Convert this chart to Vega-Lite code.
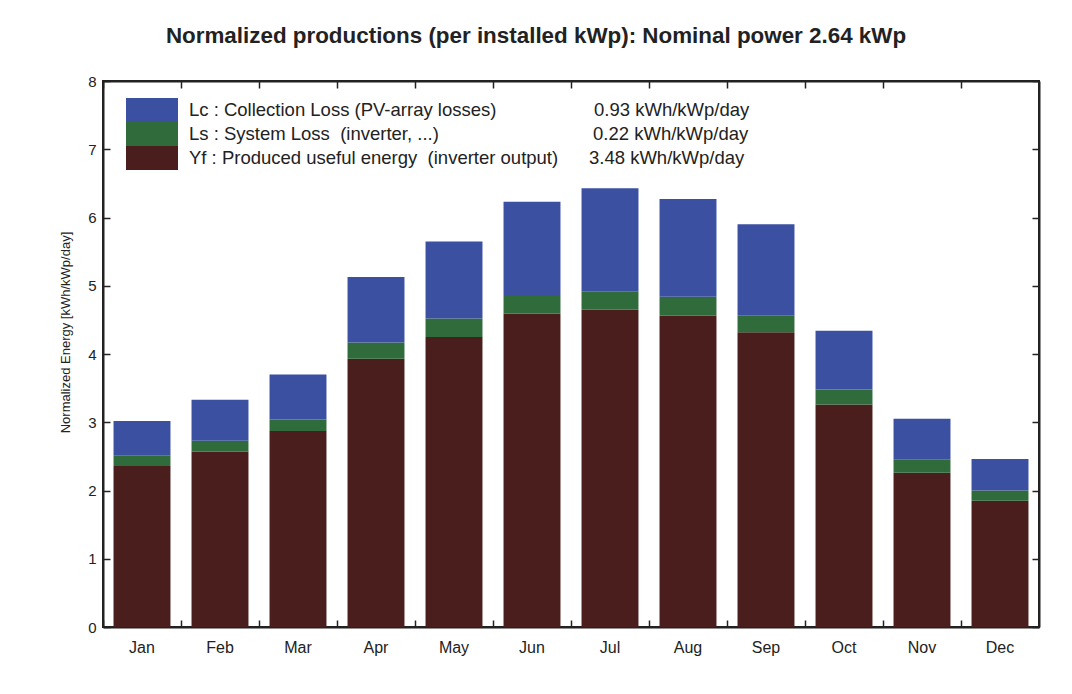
{
  "$schema": "https://vega.github.io/schema/vega-lite/v6.json",
  "width": 936,
  "height": 546,
  "autosize": {"type": "none"},
  "padding": {"left": 103, "top": 81, "right": 33, "bottom": 67},
  "background": "white",
  "title": {
    "text": "Normalized productions (per installed kWp):  Nominal power 2.64 kWp",
    "font": "Liberation Sans",
    "fontSize": 22.4,
    "fontWeight": "bold",
    "color": "#222222",
    "anchor": "middle",
    "baseline": "alphabetic",
    "offset": 9,
    "dx": -35
  },
  "data": {
    "values": [
      {"month": "Jan", "component": "Yf", "value": 2.36},
      {"month": "Jan", "component": "Ls", "value": 0.15},
      {"month": "Jan", "component": "Lc", "value": 0.51},
      {"month": "Feb", "component": "Yf", "value": 2.57},
      {"month": "Feb", "component": "Ls", "value": 0.16},
      {"month": "Feb", "component": "Lc", "value": 0.60},
      {"month": "Mar", "component": "Yf", "value": 2.87},
      {"month": "Mar", "component": "Ls", "value": 0.17},
      {"month": "Mar", "component": "Lc", "value": 0.66},
      {"month": "Apr", "component": "Yf", "value": 3.93},
      {"month": "Apr", "component": "Ls", "value": 0.24},
      {"month": "Apr", "component": "Lc", "value": 0.96},
      {"month": "May", "component": "Yf", "value": 4.25},
      {"month": "May", "component": "Ls", "value": 0.27},
      {"month": "May", "component": "Lc", "value": 1.13},
      {"month": "Jun", "component": "Yf", "value": 4.59},
      {"month": "Jun", "component": "Ls", "value": 0.26},
      {"month": "Jun", "component": "Lc", "value": 1.38},
      {"month": "Jul", "component": "Yf", "value": 4.65},
      {"month": "Jul", "component": "Ls", "value": 0.27},
      {"month": "Jul", "component": "Lc", "value": 1.51},
      {"month": "Aug", "component": "Yf", "value": 4.56},
      {"month": "Aug", "component": "Ls", "value": 0.28},
      {"month": "Aug", "component": "Lc", "value": 1.43},
      {"month": "Sep", "component": "Yf", "value": 4.32},
      {"month": "Sep", "component": "Ls", "value": 0.24},
      {"month": "Sep", "component": "Lc", "value": 1.34},
      {"month": "Oct", "component": "Yf", "value": 3.26},
      {"month": "Oct", "component": "Ls", "value": 0.22},
      {"month": "Oct", "component": "Lc", "value": 0.86},
      {"month": "Nov", "component": "Yf", "value": 2.26},
      {"month": "Nov", "component": "Ls", "value": 0.19},
      {"month": "Nov", "component": "Lc", "value": 0.60},
      {"month": "Dec", "component": "Yf", "value": 1.85},
      {"month": "Dec", "component": "Ls", "value": 0.15},
      {"month": "Dec", "component": "Lc", "value": 0.46}
    ]
  },
  "layer": [
    {
      "mark": {"type": "bar", "width": {"band": 0.73}},
      "encoding": {
        "x": {
          "field": "month",
          "type": "nominal",
          "sort": ["Jan", "Feb", "Mar", "Apr", "May", "Jun", "Jul", "Aug", "Sep", "Oct", "Nov", "Dec"],
          "scale": {"paddingInner": 0, "paddingOuter": 0},
          "axis": {
            "orient": "bottom",
            "title": null,
            "bandPosition": 0,
            "tickSize": -7,
            "tickColor": "#222222",
            "tickWidth": 1.5,
            "domainColor": "#222222",
            "domainWidth": 2,
            "labelAngle": 0,
            "labelFont": "Liberation Sans",
            "labelFontSize": 16,
            "labelColor": "#222222",
            "labelPadding": 19
          }
        },
        "y": {
          "field": "value",
          "type": "quantitative",
          "scale": {"domain": [0, 8], "nice": false},
          "axis": {
            "orient": "left",
            "values": [0, 1, 2, 3, 4, 5, 6, 7, 8],
            "grid": false,
            "tickSize": -7,
            "tickColor": "#222222",
            "tickWidth": 1.5,
            "domainColor": "#222222",
            "domainWidth": 2,
            "labelFont": "Liberation Sans",
            "labelFontSize": 15,
            "labelColor": "#222222",
            "labelPadding": 14,
            "title": "Normalized Energy [kWh/kWp/day]",
            "titleFont": "Liberation Sans",
            "titleFontSize": 13,
            "titleFontWeight": "normal",
            "titleColor": "#222222",
            "titleAngle": -90,
            "titleAlign": "center",
            "titleBaseline": "middle",
            "titleX": -38,
            "titleY": 251
          }
        },
        "color": {
          "field": "component",
          "type": "nominal",
          "scale": {"domain": ["Lc", "Ls", "Yf"], "range": ["#3b50a0", "#2f6b3b", "#4a1e1c"]},
          "legend": {
            "orient": "none",
            "legendX": 37,
            "legendY": 17,
            "title": null,
            "padding": 0,
            "rowPadding": 0,
            "symbolType": "M-2.1667,-1H2.1667V1H-2.1667Z",
            "symbolSize": 576,
            "symbolStrokeWidth": 0,
            "symbolOpacity": 1,
            "labelFont": "Liberation Sans",
            "labelFontSize": 18.5,
            "labelColor": "#222222",
            "labelLimit": 900,
            "labelOffset": 25,
            "labelExpr": "datum.label == 'Lc' ? 'Lc : Collection Loss (PV-array losses)\u00a0\u00a0\u00a0\u00a0\u00a0\u00a0\u00a0\u00a0\u00a0\u00a0\u00a0\u00a0\u00a0\u00a0\u00a0\u00a0\u00a0\u00a0\u00a00.93 kWh/kWp/day' : datum.label == 'Ls' ? 'Ls : System Loss\u00a0 (inverter, ...)\u00a0\u00a0\u00a0\u00a0\u00a0\u00a0\u00a0\u00a0\u00a0\u00a0\u00a0\u00a0\u00a0\u00a0\u00a0\u00a0\u00a0\u00a0\u00a0\u00a0\u00a0\u00a0\u00a0\u00a0\u00a0\u00a0\u00a0\u00a0\u00a0\u00a00.22 kWh/kWp/day' : 'Yf : Produced useful energy\u00a0 (inverter output)\u00a0\u00a0\u00a0\u00a0\u00a0\u00a03.48 kWh/kWp/day'"
          }
        },
        "order": {"field": "component", "sort": "descending"}
      }
    },
    {
      "mark": {"type": "bar", "opacity": 0, "width": {"band": 0.73}},
      "encoding": {
        "x": {
          "field": "month",
          "type": "nominal",
          "sort": ["Jan", "Feb", "Mar", "Apr", "May", "Jun", "Jul", "Aug", "Sep", "Oct", "Nov", "Dec"],
          "axis": {
            "orient": "top",
            "title": null,
            "labels": false,
            "bandPosition": 0,
            "tickSize": -7,
            "tickColor": "#222222",
            "tickWidth": 1.5,
            "domainColor": "#222222",
            "domainWidth": 2
          }
        },
        "y": {
          "field": "value",
          "type": "quantitative",
          "axis": {
            "orient": "right",
            "values": [0, 1, 2, 3, 4, 5, 6, 7, 8],
            "grid": false,
            "labels": false,
            "title": null,
            "tickSize": -7,
            "tickColor": "#222222",
            "tickWidth": 1.5,
            "domainColor": "#222222",
            "domainWidth": 2
          }
        }
      }
    }
  ],
  "resolve": {"axis": {"x": "independent", "y": "independent"}},
  "config": {"view": {"stroke": "#222222", "strokeWidth": 2}}
}
